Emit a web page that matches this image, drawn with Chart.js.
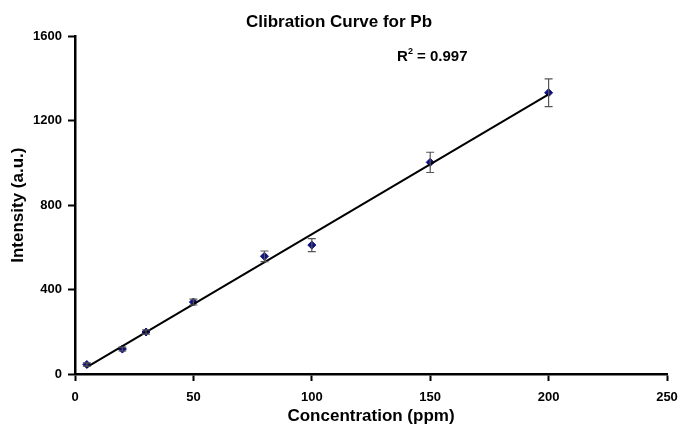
<!DOCTYPE html>
<html>
<head>
<meta charset="utf-8">
<script src="https://cdn.jsdelivr.net/npm/chart.js@4.4.1/dist/chart.umd.min.js"></script>
<style>
    html, body { margin: 0; padding: 0; background: #fff; }
    #wrap { width: 678px; height: 431px; }
</style>
</head>
<body>
<div id="wrap"><canvas id="chart"></canvas></div>
<script>
// concentrations (ppm) and measured intensities
const concentrations = [5, 20, 30, 50, 80, 100, 150, 200];
const intensities = [45, 118, 199, 341, 558, 611, 1003, 1333];
const errors = [8, 9, 10, 14, 25, 31, 48, 66];

// linear fit drawn as a line between its two ends
const fitX = [5, 200];
const fitY = [33, 1325];

const xTicks = [0, 50, 100, 150, 200, 250];
const yTicks = [0, 400, 800, 1200, 1600];
const rSquared = "0.997";

const FONT = "'Liberation Sans', Arial, sans-serif";

// error bars + R² label
const extras = {
    id: "extras",
    afterDatasetsDraw(chart) {
        const ctx = chart.ctx;
        const xs = chart.scales.x;
        const ys = chart.scales.y;
        ctx.save();
        ctx.strokeStyle = "#555";
        ctx.lineWidth = 1.2;
        for (let i = 0; i < concentrations.length; i++) {
            const px = xs.getPixelForValue(concentrations[i]);
            const top = ys.getPixelForValue(intensities[i] + errors[i]);
            const bot = ys.getPixelForValue(intensities[i] - errors[i]);
            ctx.beginPath();
            ctx.moveTo(px, top);
            ctx.lineTo(px, bot);
            ctx.moveTo(px - 4, top);
            ctx.lineTo(px + 4, top);
            ctx.moveTo(px - 4, bot);
            ctx.lineTo(px + 4, bot);
            ctx.stroke();
        }
        // R² annotation
        const lx = xs.getPixelForValue(136);
        const ly = ys.getPixelForValue(1505);
        ctx.fillStyle = "#000";
        ctx.textBaseline = "middle";
        ctx.font = "bold 15px " + FONT;
        ctx.fillText("R", lx, ly);
        let w = ctx.measureText("R").width;
        ctx.font = "bold 9px " + FONT;
        ctx.fillText("2", lx + w, ly - 5);
        w += ctx.measureText("2").width;
        ctx.font = "bold 15px " + FONT;
        ctx.fillText(" = " + rSquared, lx + w, ly);
        ctx.restore();
    },
};

const ctx = document.getElementById("chart").getContext("2d");
new Chart(ctx, {
    type: "scatter",
    data: {
        datasets: [
            {
                label: "Fit",
                type: "line",
                data: fitX.map((x, i) => ({ x: x, y: fitY[i] })),
                borderColor: "#000",
                borderWidth: 2,
                pointRadius: 0,
                fill: false,
            },
            {
                label: "Pb",
                data: concentrations.map((x, i) => ({ x: x, y: intensities[i] })),
                pointStyle: "rectRot",
                pointRadius: 4,
                backgroundColor: "#10107e",
                borderColor: "#10107e",
            },
        ],
    },
    options: {
        responsive: true,
        maintainAspectRatio: false,
        animation: false,
        layout: { padding: 0 },
        plugins: {
            legend: { display: false },
            tooltip: { enabled: false },
            title: {
                display: true,
                text: "Clibration Curve for Pb",
                color: "#000",
                font: { family: FONT, size: 17, weight: "bold" },
                padding: { top: 12, bottom: 4 },
            },
        },
        scales: {
            x: {
                type: "linear",
                min: 0,
                max: 250,
                afterBuildTicks: (s) => { s.ticks = xTicks.map((v) => ({ value: v })); },
                afterFit: (s) => {
                    s.height = 57;
                    s.paddingRight = 11;
                },
                grid: { drawOnChartArea: false, tickLength: 7, tickWidth: 2, color: "#000" },
                border: { color: "#000", width: 2.5 },
                ticks: {
                    color: "#000",
                    padding: 9,
                    maxRotation: 0,
                    callback: (v) => String(v),
                    font: { family: FONT, size: 13, weight: "bold" },
                },
                title: {
                    display: true,
                    text: "Concentration (ppm)",
                    color: "#000",
                    padding: { top: 2 },
                    font: { family: FONT, size: 17, weight: "bold" },
                },
            },
            y: {
                min: 0,
                max: 1600,
                afterBuildTicks: (s) => { s.ticks = yTicks.map((v) => ({ value: v })); },
                afterFit: (s) => { s.width = 75; },
                grid: { drawOnChartArea: false, tickLength: 7, tickWidth: 2, color: "#000" },
                border: { color: "#000", width: 2.5 },
                ticks: {
                    color: "#000",
                    padding: 6,
                    callback: (v) => String(v),
                    font: { family: FONT, size: 13, weight: "bold" },
                },
                title: {
                    display: true,
                    text: "Intensity (a.u.)",
                    color: "#000",
                    padding: { top: 8, bottom: 8 },
                    font: { family: FONT, size: 17, weight: "bold" },
                },
            },
        },
    },
    plugins: [extras],
});
</script>
</body>
</html>
